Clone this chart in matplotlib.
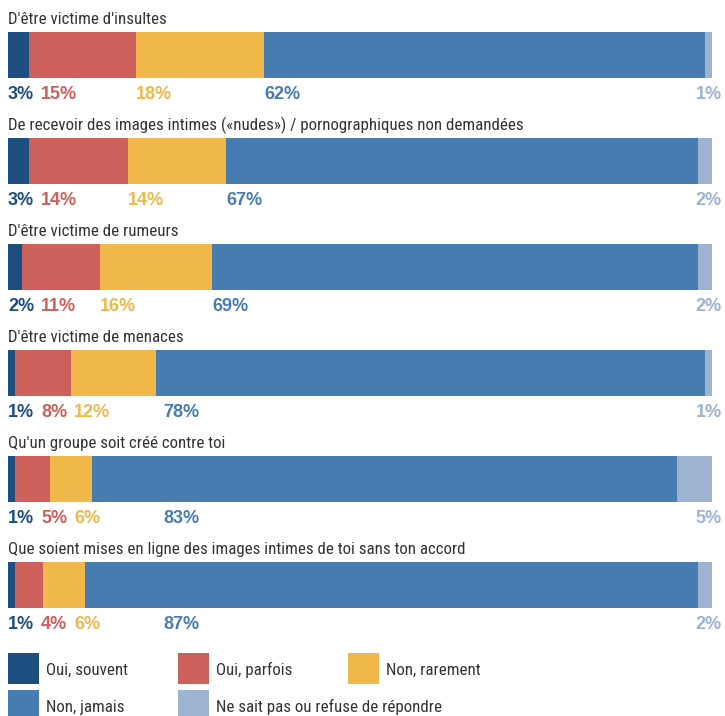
import matplotlib
matplotlib.use('Agg')
import matplotlib.pyplot as plt
from matplotlib import font_manager as fm
from matplotlib.patches import Rectangle
import numpy as np

questions = [
    "D'être victime d'insultes",
    "De recevoir des images intimes (\u00abnudes\u00bb) / pornographiques non demandées",
    "D'être victime de rumeurs",
    "D'être victime de menaces",
    "Qu'un groupe soit créé contre toi",
    "Que soient mises en ligne des images intimes de toi sans ton accord",
]
categories = ["Oui, souvent", "Oui, parfois", "Non, rarement", "Non, jamais",
              "Ne sait pas ou refuse de répondre"]
souvent = [3, 3, 2, 1, 1, 1]
parfois = [15, 14, 11, 8, 5, 4]
rarement = [18, 14, 16, 12, 6, 6]
jamais = [62, 67, 69, 78, 83, 87]
nsp = [1, 2, 2, 1, 5, 2]

colors = ['#1c4e80', '#cd605a', '#f0b84b', '#477cb0', '#9db3d1']
text_color = '#333333'

available = {f.name for f in fm.fontManager.ttflist}
prefs = ['Liberation Sans Narrow', 'Roboto Condensed', 'Archivo Narrow',
         'PT Sans Narrow', 'Fira Sans Condensed', 'IBM Plex Sans Condensed',
         'Open Sans Condensed']
narrow_name = next((p for p in prefs if p in available), None)
if narrow_name is None:
    narrow = ['Liberation Sans', 'DejaVu Sans']
    tsize = 10.8
else:
    narrow = [narrow_name, 'DejaVu Sans']
    tsize = 12.2
boldfam = ['Liberation Sans', 'DejaVu Sans']

W, H = 725, 716
fig = plt.figure(figsize=(W / 100, H / 100), dpi=100)
ax = fig.add_axes([8 / W, 0, 704 / W, 1])
ax.set_xlim(0, 100)
ax.set_ylim(H, 0)
ax.axis('off')

series = np.array([souvent, parfois, rarement, jamais, nsp], dtype=float)
shares = series / series.sum(axis=0) * 100

row_pitch = 106
first_top = 32
bar_h = 46
px = 100 / 704  # data units per pixel
jamais_min = 155 * px

fig.canvas.draw()
renderer = fig.canvas.get_renderer()

for i, q in enumerate(questions):
    top = first_top + i * row_pitch
    center = top + bar_h / 2
    left = 0.0
    starts = []
    for k in range(5):
        ax.barh(center, shares[k, i], left=left, height=bar_h,
                color=colors[k], linewidth=0)
        starts.append(left)
        left += shares[k, i]
    ax.text(0, top - 8, q, ha='left', va='baseline', fontsize=tsize,
            family=narrow, color=text_color)
    base = top + bar_h + 21
    prev_end = -1e9
    for k in range(4):
        x = max(starts[k], prev_end + 7 * px)
        if k == 3:
            x = max(x, jamais_min)
        t = ax.text(x, base, f"{int(series[k, i])}%", ha='left', va='baseline',
                    fontsize=13, fontweight='bold', family=boldfam,
                    color=colors[k])
        bb = t.get_window_extent(renderer)
        prev_end = x + bb.width * px
    ax.text(100 + 10 * px, base, f"{int(series[4, i])}%", ha='right',
            va='baseline', fontsize=13, fontweight='bold', family=boldfam,
            color=colors[4])

# legend
lax = fig.add_axes([0, 0, 1, 1])
lax.set_xlim(0, W)
lax.set_ylim(H, 0)
lax.axis('off')
lax.patch.set_alpha(0)
col_x = [8, 178, 348]
row_y = [653, 690]
order = [(0, 0, 0), (1, 0, 1), (2, 0, 2), (3, 1, 0), (4, 1, 1)]
for k, r, c in order:
    x0, y0 = col_x[c], row_y[r]
    lax.add_patch(Rectangle((x0, y0), 31, 31, facecolor=colors[k], linewidth=0))
    lax.text(x0 + 38, y0 + 22, categories[k], ha='left', va='baseline',
             fontsize=tsize, family=narrow, color=text_color)

fig.savefig('out.png', dpi=100)
